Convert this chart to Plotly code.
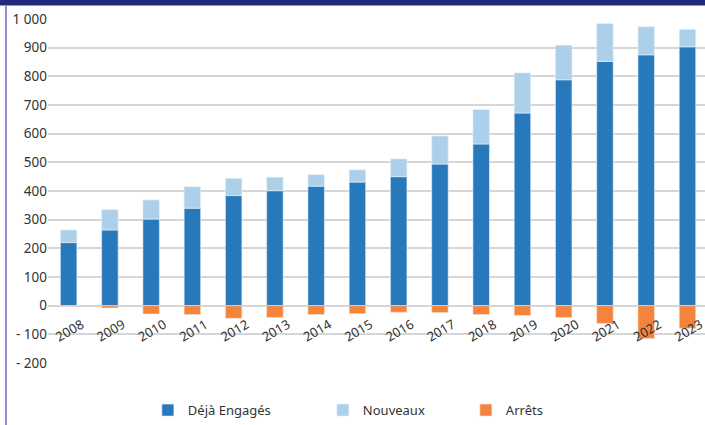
import plotly.graph_objects as go

years = ["2008", "2009", "2010", "2011", "2012", "2013", "2014", "2015",
         "2016", "2017", "2018", "2019", "2020", "2021", "2022", "2023"]
deja_engages = [220, 264, 302, 340, 384, 401, 417, 431, 450, 494, 564, 672, 788, 852, 875, 903]
nouveaux = [44, 71, 67, 75, 60, 47, 40, 43, 62, 98, 120, 140, 121, 132, 98, 61]
arrets = [-2, -8, -29, -31, -44, -41, -31, -28, -23, -24, -31, -34, -41, -62, -115, -79]

y_tickvals = [-200, -100, 0, 100, 200, 300, 400, 500, 600, 700, 800, 900, 1000]
y_ticktext = ["- 200", "- 100", "0", "100", "200", "300", "400", "500",
              "600", "700", "800", "900", "1 000"]

FONT = "Noto Sans"
TXT = "#333333"

fig = go.Figure()
fig.add_trace(go.Bar(x=years, y=deja_engages, name="Déjà Engagés",
                     marker=dict(color="#2878bc", line=dict(width=0.6, color="#e8f0f8")),
                     legendwidth=130))
fig.add_trace(go.Bar(x=years, y=nouveaux, name="Nouveaux",
                     marker=dict(color="#acd0e9", line=dict(width=0.6, color="#e8f0f8")),
                     legendwidth=98))
fig.add_trace(go.Bar(x=years, y=arrets, name="Arrêts",
                     marker=dict(color="#f4843d", line=dict(width=0.6, color="#fbe3d3"))))

fig.update_layout(
    width=705, height=425,
    margin=dict(l=48, r=0, t=19, b=62, autoexpand=False),
    barmode="relative",
    bargap=0.6,
    plot_bgcolor="white", paper_bgcolor="white",
    font=dict(family=FONT, size=13, color=TXT),
    showlegend=True,
    legend=dict(orientation="h", x=0.152, xanchor="left", y=-0.137, yanchor="middle",
                font=dict(family=FONT, size=13, color=TXT), traceorder="normal"),
    xaxis=dict(type="category", categoryorder="array", categoryarray=years,
               range=[-0.5, 15.425], anchor="free", position=0.1657,
               showgrid=False, showline=False, zeroline=False, ticks="",
               tickangle=-30, ticklabelshift=13, ticklabelstandoff=8, automargin=False,
               tickfont=dict(family=FONT, size=13, color=TXT)),
    yaxis=dict(range=[-200, 1000], tickvals=y_tickvals, ticktext=y_ticktext,
               showgrid=True, gridcolor="#d6d6d6", gridwidth=2,
               zeroline=False, showline=False, ticks="", automargin=False,
               tickfont=dict(family=FONT, size=13.5, color=TXT)),
    shapes=[
        dict(type="rect", xref="paper", yref="paper", x0=-0.08, x1=1.0,
             y0=1.039, y1=1.06, fillcolor="#22287b", line=dict(width=0), layer="above"),
        dict(type="line", xref="paper", yref="paper", x0=-0.064, x1=-0.064,
             y0=-0.19, y1=1.04, line=dict(color="#8c8fcc", width=2), layer="above"),
    ],
)

fig.write_html("out.html", config={"displayModeBar": False},
               post_script="document.body.style.margin='0';document.body.style.overflow='hidden';")
